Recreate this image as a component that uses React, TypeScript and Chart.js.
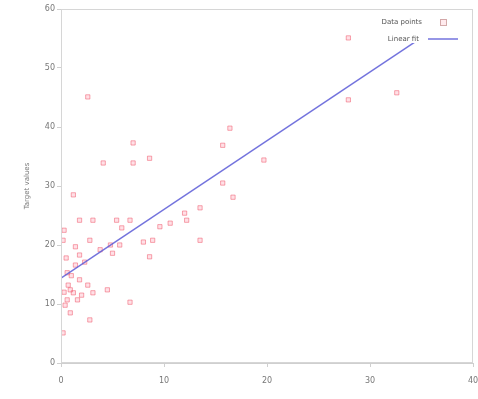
import React, { useEffect, useRef } from "react";
import { Chart, registerables } from "chart.js";

Chart.register(...registerables);

// Scatter observations (x, y)
const sampleX = [2.6, 27.9, 27.9, 32.6, 16.4, 15.7, 7.0, 4.1, 7.0, 8.6, 1.2, 16.7, 15.7, 19.7, 13.5, 1.8, 3.1, 5.4, 6.7, 10.6, 12.2, 0.2, 2.8, 4.8, 8.0, 8.9, 13.5, 5.0, 1.8, 8.6, 0.6, 1.8, 1.2, 0.6, 3.1, 4.5, 6.7, 0.9, 2.8, 0.2, 12.0, 0.5, 1.4, 2.3, 0.7, 1.6, 3.8, 5.7, 0.3, 1.4, 5.9, 9.6, 0.9, 2.0, 0.4, 2.6, 1.0, 0.3];
const sampleY = [45.1, 55.1, 44.6, 45.8, 39.8, 36.9, 37.3, 33.9, 33.9, 34.7, 28.5, 28.1, 30.5, 34.4, 26.3, 24.2, 24.2, 24.2, 24.2, 23.7, 24.2, 20.8, 20.8, 20.0, 20.5, 20.8, 20.8, 18.6, 18.3, 18.0, 15.3, 14.1, 11.9, 10.7, 11.9, 12.4, 10.3, 8.5, 7.3, 5.1, 25.4, 17.8, 16.6, 17.1, 13.2, 10.7, 19.2, 20.0, 22.5, 19.7, 22.9, 23.1, 12.4, 11.5, 9.8, 13.2, 14.8, 12.0];

// Fitted line end points
const fitX = [0, 34.6];
const fitY = [14.4, 54.7];

const xTicks = [0, 10, 20, 30, 40];
const yTicks = [0, 10, 20, 30, 40, 50, 60];

const seriesLabels = ["Data points", "Linear fit"];
const yTitle = "Target values";

export default function App() {
  const ref = useRef<HTMLCanvasElement | null>(null);

  useEffect(() => {
    document.body.style.margin = "0";
    const canvas = ref.current;
    if (!canvas) return;

    const scatterData = sampleX.map((x, i) => ({ x, y: sampleY[i] }));
    const lineData = fitX.map((x, i) => ({ x, y: fitY[i] }));

    const frame = {
      id: "frame",
      afterDatasetsDraw(chart: any) {
        const { ctx, chartArea: a } = chart;
        ctx.save();
        ctx.strokeStyle = "#d6d6d6";
        ctx.lineWidth = 1;
        ctx.strokeRect(a.left + 0.5, a.top + 0.5, a.right - a.left - 1, a.bottom - a.top - 1);

        // legend box
        const ds = chart.data.datasets;
        ctx.fillStyle = "#ffffff";
        ctx.fillRect(372, 12, 98, 31);
        ctx.font = "7px 'DejaVu Sans', sans-serif";
        ctx.fillStyle = "#555";
        ctx.textAlign = "right";
        ctx.textBaseline = "middle";
        ctx.fillText(ds[0].label, 422, 22);
        ctx.fillText(ds[1].label, 419, 39);
        ctx.strokeStyle = "rgba(200,150,150,0.8)";
        ctx.fillStyle = "rgba(255,120,140,0.15)";
        ctx.fillRect(440, 19, 6, 6);
        ctx.strokeRect(440.5, 19.5, 6, 6);
        ctx.strokeStyle = "rgba(90,90,215,0.85)";
        ctx.lineWidth = 1.5;
        ctx.beginPath();
        ctx.moveTo(428, 39);
        ctx.lineTo(458, 39);
        ctx.stroke();
        ctx.restore();
      },
    };

    const chart = new Chart(canvas, {
      type: "scatter",
      data: {
        datasets: [
          {
            label: seriesLabels[0],
            data: scatterData,
            pointStyle: "rect",
            pointRadius: 3,
            borderWidth: 1,
            borderColor: "rgba(240,80,100,0.5)",
            backgroundColor: "rgba(255,99,132,0.2)",
            order: 2,
          },
          {
            label: seriesLabels[1],
            type: "line",
            data: lineData,
            showLine: true,
            pointRadius: 0,
            borderColor: "rgba(90,90,215,0.85)",
            borderWidth: 1.5,
            fill: false,
            order: 1,
          } as any,
        ],
      },
      options: {
        responsive: false,
        animation: false,
        layout: { padding: { top: 9, right: 5, left: 0, bottom: 0 } },
        plugins: { legend: { display: false }, tooltip: { enabled: false } },
        scales: {
          x: {
            type: "linear",
            min: xTicks[0],
            max: xTicks[xTicks.length - 1],
            afterBuildTicks: (s: any) => {
              s.ticks = xTicks.map((v) => ({ value: v }));
            },
            afterFit: (s: any) => {
              s.height = 36;
              s.paddingLeft = 0;
              s.paddingRight = 0;
            },
            grid: { drawOnChartArea: false, tickLength: 4, color: "#cfcfcf" },
            border: { color: "#cfcfcf" },
            ticks: { color: "#777", font: { size: 8, family: "'DejaVu Sans', sans-serif" }, padding: 9, maxRotation: 0 },
          },
          y: {
            type: "linear",
            min: yTicks[0],
            max: yTicks[yTicks.length - 1],
            afterBuildTicks: (s: any) => {
              s.ticks = yTicks.map((v) => ({ value: v }));
            },
            afterFit: (s: any) => {
              s.width = 61;
              s.paddingTop = 0;
              s.paddingBottom = 0;
            },
            grid: { drawOnChartArea: false, tickLength: 4, color: "#cfcfcf" },
            border: { color: "#cfcfcf" },
            ticks: { color: "#777", font: { size: 8, family: "'DejaVu Sans', sans-serif" }, padding: 2 },
            title: {
              display: true,
              text: yTitle,
              color: "#777",
              font: { size: 7, family: "'DejaVu Sans', sans-serif" },
              padding: { top: 23, bottom: 0 },
            },
          },
        },
      },
      plugins: [frame],
    });

    return () => chart.destroy();
  }, []);

  return <canvas ref={ref} width={478} height={399} style={{ display: "block" }} />;
}
